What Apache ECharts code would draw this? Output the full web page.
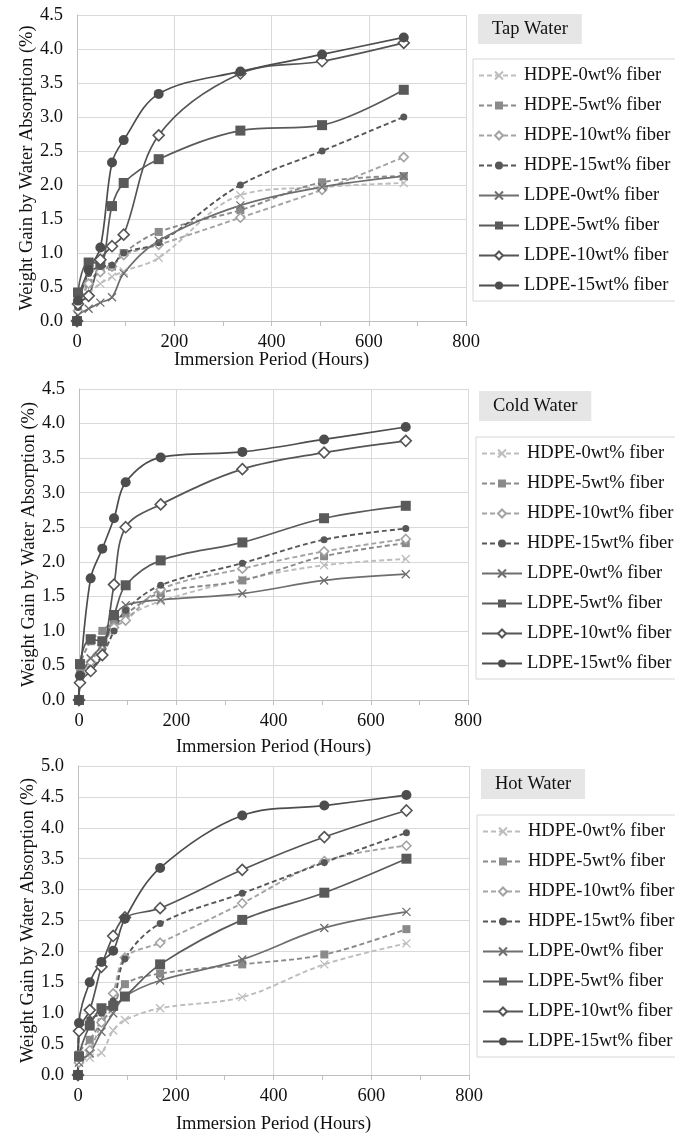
<!DOCTYPE html>
<html><head><meta charset="utf-8">
<script src="https://cdn.jsdelivr.net/npm/echarts@6/dist/echarts.min.js"></script>
<style>html,body{margin:0;padding:0;background:#fff}#c{width:675px;height:1135px}</style>
</head><body><div id="c"></div>
<script>
// Immersion times (hours)
const times = [0, 2, 24, 48, 72, 96, 168, 336, 504, 672];
const seriesNames = ['HDPE-0wt% fiber','HDPE-5wt% fiber','HDPE-10wt% fiber','HDPE-15wt% fiber','LDPE-0wt% fiber','LDPE-5wt% fiber','LDPE-10wt% fiber','LDPE-15wt% fiber'];
const panelTitles = ['Tap Water','Cold Water','Hot Water'];
const yMaxes = [4.5, 4.5, 5.0];
const xTicks = [0, 200, 400, 600, 800];

// Tap water
const tap_HDPE0  = [0, 0.20, 0.40, 0.55, 0.65, 0.73, 0.93, 1.85, 1.97, 2.03];
const tap_HDPE5  = [0, 0.20, 0.55, 0.75, 0.80, 1.00, 1.31, 1.63, 2.04, 2.13];
const tap_HDPE10 = [0, 0.15, 0.55, 0.72, 0.80, 0.97, 1.12, 1.52, 1.93, 2.41];
const tap_HDPE15 = [0, 0.20, 0.70, 0.80, 0.82, 1.00, 1.15, 2.00, 2.50, 3.00];
const tap_LDPE0  = [0, 0.08, 0.18, 0.27, 0.35, 0.70, 1.18, 1.70, 1.97, 2.13];
const tap_LDPE5  = [0, 0.42, 0.86, 0.85, 1.69, 2.03, 2.38, 2.80, 2.88, 3.40];
const tap_LDPE10 = [0, 0.25, 0.37, 0.90, 1.10, 1.27, 2.73, 3.64, 3.82, 4.09];
const tap_LDPE15 = [0, 0.30, 0.75, 1.08, 2.33, 2.66, 3.34, 3.67, 3.92, 4.17];

// Cold water
const cold_HDPE0  = [0, 0.30, 0.60, 0.80, 1.05, 1.20, 1.43, 1.74, 1.95, 2.04];
const cold_HDPE5  = [0, 0.45, 0.85, 1.00, 1.15, 1.25, 1.55, 1.73, 2.08, 2.27];
const cold_HDPE10 = [0, 0.35, 0.55, 0.80, 1.05, 1.15, 1.60, 1.90, 2.15, 2.33];
const cold_HDPE15 = [0, 0.30, 0.45, 0.65, 1.00, 1.30, 1.66, 1.98, 2.32, 2.48];
const cold_LDPE0  = [0, 0.30, 0.60, 0.80, 1.20, 1.37, 1.45, 1.54, 1.73, 1.82];
const cold_LDPE5  = [0, 0.52, 0.88, 0.85, 1.23, 1.66, 2.02, 2.28, 2.63, 2.81];
const cold_LDPE10 = [0, 0.25, 0.42, 0.65, 1.67, 2.50, 2.83, 3.34, 3.58, 3.75];
const cold_LDPE15 = [0, 0.35, 1.76, 2.19, 2.63, 3.15, 3.51, 3.59, 3.77, 3.95];

// Hot water
const hot_HDPE0  = [0, 0.20, 0.28, 0.36, 0.72, 0.89, 1.08, 1.26, 1.79, 2.13];
const hot_HDPE5  = [0, 0.33, 0.57, 0.85, 1.10, 1.47, 1.64, 1.79, 1.95, 2.36];
const hot_HDPE10 = [0, 0.20, 0.40, 0.85, 1.32, 1.90, 2.14, 2.78, 3.46, 3.71];
const hot_HDPE15 = [0, 0.70, 0.90, 1.00, 1.20, 1.88, 2.45, 2.94, 3.44, 3.92];
const hot_LDPE0  = [0, 0.20, 0.35, 0.70, 1.00, 1.27, 1.53, 1.87, 2.38, 2.64];
const hot_LDPE5  = [0, 0.30, 0.80, 1.08, 1.12, 1.27, 1.79, 2.51, 2.95, 3.50];
const hot_LDPE10 = [0, 0.71, 1.05, 1.75, 2.25, 2.55, 2.70, 3.32, 3.85, 4.28];
const hot_LDPE15 = [0, 0.84, 1.50, 1.83, 2.01, 2.53, 3.35, 4.20, 4.36, 4.53];

const panelData = [
  [tap_HDPE0, tap_HDPE5, tap_HDPE10, tap_HDPE15, tap_LDPE0, tap_LDPE5, tap_LDPE10, tap_LDPE15],
  [cold_HDPE0, cold_HDPE5, cold_HDPE10, cold_HDPE15, cold_LDPE0, cold_LDPE5, cold_LDPE10, cold_LDPE15],
  [hot_HDPE0, hot_HDPE5, hot_HDPE10, hot_HDPE15, hot_LDPE0, hot_LDPE5, hot_LDPE10, hot_LDPE15]
];

const FONT = 'Liberation Serif';
const XPATH = 'path://M0,0 L10,10 M10,0 L0,10';
const styles = [
  {color:'#bdbdbd', dash:true,  symbol:XPATH,    size:8, fill:'none',    bw:1.3},
  {color:'#8a8a8a', dash:true,  symbol:'rect',   size:8, fill:'#8a8a8a', bw:0},
  {color:'#a3a3a3', dash:true,  symbol:'diamond',size:9, fill:'#ffffff', bw:1.6},
  {color:'#575757', dash:true,  symbol:'circle', size:7, fill:'#575757', bw:0},
  {color:'#6e6e6e', dash:false, symbol:XPATH,    size:8, fill:'none',    bw:1.3},
  {color:'#5a5a5a', dash:false, symbol:'rect',   size:10, fill:'#5a5a5a', bw:0},
  {color:'#555555', dash:false, symbol:'diamond',size:11, fill:'#ffffff', bw:1.6},
  {color:'#4d4d4d', dash:false, symbol:'circle', size:10, fill:'#4d4d4d', bw:0}
];

// layout per panel
const grids = [
  {left:77, top:15, width:389, height:306},
  {left:79, top:389, width:389, height:311},
  {left:78, top:766, width:391, height:311}
];
const titlePos = [{left:478, top:14},{left:479, top:391},{left:481, top:769}];
const legendPos = [{left:473, top:59},{left:476, top:437},{left:477, top:815}];
const xNameGaps = [30, 38, 40];

const option = {
  animation:false,
  backgroundColor:'#fff',
  title: panelTitles.map((t,i)=>({
    text:t, left:titlePos[i].left, top:titlePos[i].top,
    backgroundColor:'#e6e6e6', padding:[6,14,5,14],
    textStyle:{fontFamily:FONT, fontSize:18.5, fontWeight:'normal', color:'#111'}
  })),
  legend: panelTitles.map((t,i)=>({
    orient:'vertical', left:legendPos[i].left, top:legendPos[i].top,
    data:seriesNames, borderColor:'#d6d6d6', borderWidth:1,
    padding:[6,8,5,5], itemWidth:40, itemHeight:10, itemGap:9,
    textStyle:{fontFamily:FONT, fontSize:18.5, color:'#111', lineHeight:21},
    selectedMode:false
  })),
  grid: grids.map(g=>Object.assign({containLabel:false}, g)),
  xAxis: grids.map((g,i)=>({
    type:'value', gridIndex:i, min:xTicks[0], max:xTicks[xTicks.length-1], interval:200,
    name:'Immersion Period (Hours)', nameLocation:'middle', nameGap:xNameGaps[i],
    nameMoveOverlap:false,
    nameTextStyle:{fontFamily:FONT, fontSize:18.5, color:'#111'},
    axisLine:{show:true, onZero:false, lineStyle:{color:'#bfbfbf', width:1}},
    axisTick:{show:true, inside:false, length:5, lineStyle:{color:'#bfbfbf'}},
    minorTick:{show:true, splitNumber:2, length:5, lineStyle:{color:'#bfbfbf'}},
    splitLine:{show:true, lineStyle:{color:'#d9d9d9', width:1}},
    axisLabel:{fontFamily:FONT, fontSize:18.5, color:'#111', margin:12}
  })),
  yAxis: grids.map((g,i)=>({
    type:'value', gridIndex:i, min:0, max:yMaxes[i], interval:0.5,
    name:'Weight Gain by Water Absorption (%)', nameLocation:'middle', nameGap:40,
    nameMoveOverlap:false,
    nameTextStyle:{fontFamily:FONT, fontSize:18.5, color:'#111'},
    axisLine:{show:true, lineStyle:{color:'#bfbfbf', width:1}},
    axisTick:{show:false},
    splitLine:{show:true, lineStyle:{color:'#d9d9d9', width:1}},
    axisLabel:{fontFamily:FONT, fontSize:18.5, color:'#111', margin:14,
      formatter:v=>v.toFixed(1)}
  })),
  series: []
};

panelData.forEach((arrs, p)=>{
  arrs.forEach((vals, k)=>{
    const s = styles[k];
    option.series.push({
      type:'line', name:seriesNames[k], xAxisIndex:p, yAxisIndex:p,
      data: times.map((t,j)=>[t, vals[j]]),
      smooth:0.35,
      symbol:s.symbol, symbolSize:s.size, showSymbol:true,
      lineStyle:{color:s.color, width:s.dash?1.9:1.7, type:s.dash?[5,3]:'solid'},
      itemStyle:{color:s.fill, borderColor:s.color, borderWidth:s.bw},
      emphasis:{disabled:true},
      z: 2
    });
  });
});

const chart = echarts.init(document.getElementById('c'), null, {renderer:'canvas'});
chart.setOption(option);
</script></body></html>
